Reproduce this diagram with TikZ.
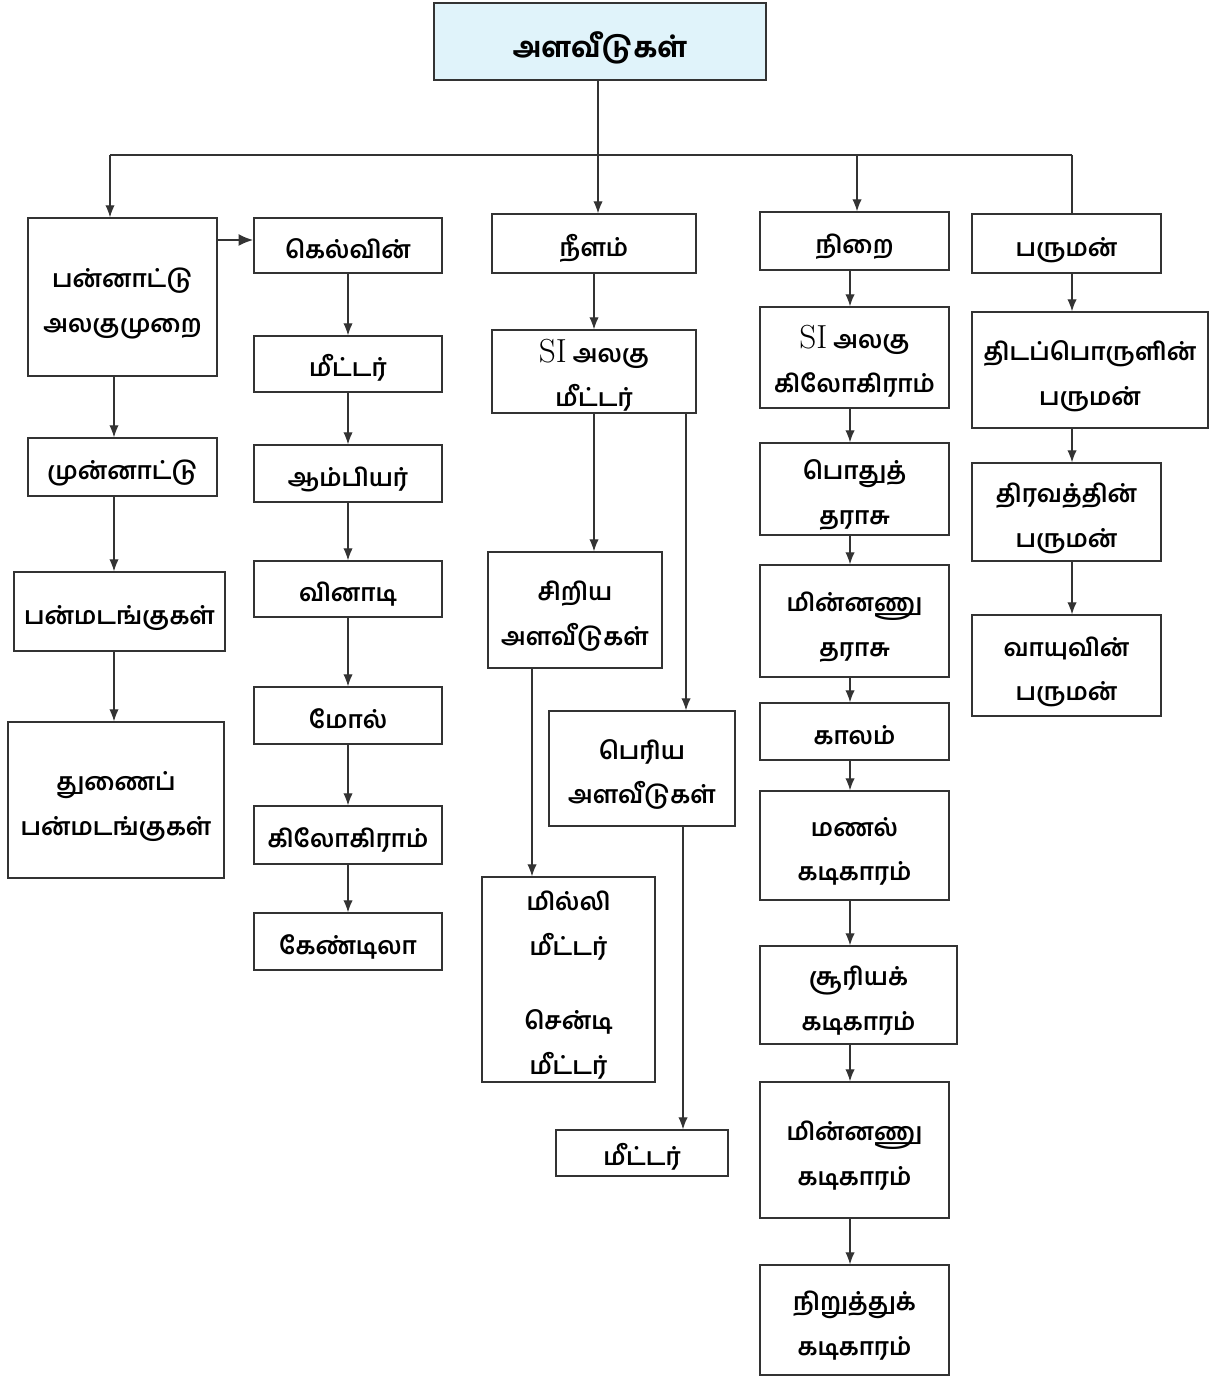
\documentclass[tikz,border=0pt]{standalone}
\usepackage{fontspec}
\newfontfamily\tam[Script=Tamil]{Hind Madurai SemiBold}
\newfontfamily\tamb[Script=Tamil]{Hind Madurai Bold}
\usetikzlibrary{arrows.meta}
\definecolor{edge}{HTML}{333333}
\definecolor{titlefill}{HTML}{E0F3FA}
\tikzset{
  box/.style={draw=edge, line width=1pt, inner sep=0pt,
    font={\tam\fontsize{18.3}{33.5}\selectfont}},
  titlebox/.style={box, fill=titlefill, font={\tamb\fontsize{21}{33}\selectfont}},
  link/.style={draw=edge, line width=0.9pt},
  arr/.style={link, -{Latex[length=9pt,width=7pt]}},
  bigarr/.style={draw=edge, line width=1.8pt, -{Latex[length=11pt,width=9pt]}}
}
\newcommand{\SIx}{{\rmfamily\fontsize{25}{33}\selectfont SI}}
% \bx[style]{name}{x1}{y1}{x2}{y2}{text}
\newcommand{\bx}[7][box]{\node[#1, minimum width={(#5-#3)*0.75pt}, minimum height={(#6-#4)*0.75pt}] (#2) at ({(#3+#5)/2},{(#4+#6)/2}) {\raisebox{-7.3pt}[0pt][0pt]{\begin{tabular}{@{}c@{}}#7\end{tabular}}};}
\begin{document}
\begin{tikzpicture}[x=0.75pt,y=-0.75pt]
\useasboundingbox (0,0) rectangle (1216,1376);
% title
\bx[titlebox]{top}{434}{3}{766}{80}{\raisebox{-3pt}{அளவீடுகள்}}
% left column
\bx{pan}{28}{218}{217}{376}{பன்னாட்டு\\அலகுமுறை}
\bx{mun}{28}{438}{217}{496}{முன்னாட்டு}
\bx{panm}{14}{572}{225}{651}{பன்மடங்குகள்}
\bx{thun}{8}{722}{224}{878}{துணைப்\\பன்மடங்குகள்}
% kelvin column
\bx{kel}{254}{218}{442}{273}{கெல்வின்}
\bx{kmet}{254}{336}{442}{392}{மீட்டர்}
\bx{amp}{254}{445}{442}{502}{ஆம்பியர்}
\bx{sec}{254}{561}{442}{617}{வினாடி}
\bx{mol}{254}{687}{442}{744}{மோல்}
\bx{kg}{254}{806}{442}{864}{கிலோகிராம்}
\bx{cd}{254}{913}{442}{970}{கேண்டிலா}
% length column
\bx{nee}{492}{214}{696}{273}{நீளம்}
\bx{sim}{492}{330}{696}{413}{\SIx\ அலகு\\மீட்டர்}
\bx{small}{488}{552}{662}{668}{சிறிய\\அளவீடுகள்}
\bx{big}{549}{711}{735}{826}{பெரிய\\அளவீடுகள்}
\bx{mm}{482}{877}{655}{1082}{மில்லி\\மீட்டர்\\[22pt]சென்டி\\மீட்டர்}
\bx{met}{556}{1130}{728}{1176}{மீட்டர்}
% mass / time column
\bx{nir}{760}{212}{949}{270}{நிறை}
\bx{sikg}{760}{307}{949}{408}{\SIx\ அலகு\\கிலோகிராம்}
\bx{pot}{760}{443}{949}{535}{பொதுத்\\தராசு}
\bx{mint}{760}{565}{949}{677}{மின்னணு\\தராசு}
\bx{kal}{760}{703}{949}{760}{காலம்}
\bx{man}{760}{791}{949}{900}{மணல்\\கடிகாரம்}
\bx{sur}{760}{946}{957}{1044}{சூரியக்\\கடிகாரம்}
\bx{mink}{760}{1082}{949}{1218}{மின்னணு\\கடிகாரம்}
\bx{niru}{760}{1265}{949}{1375}{நிறுத்துக்\\கடிகாரம்}
% volume column
\bx{par}{972}{214}{1161}{273}{பருமன்}
\bx{thid}{972}{312}{1208}{428}{திடப்பொருளின்\\பருமன்}
\bx{thir}{972}{463}{1161}{561}{திரவத்தின்\\பருமன்}
\bx{vay}{972}{615}{1161}{716}{வாயுவின்\\பருமன்}
% helper coordinates
\coordinate (bary) at (0,155);
\coordinate (xL) at (110,0);
\coordinate (xM) at (598,0);
\coordinate (xN) at (857,0);
\coordinate (xR) at (1072,0);
\coordinate (xP) at (114,0);
\coordinate (xK) at (348,0);
\coordinate (xS) at (594,0);
\coordinate (xB) at (686,0);
\coordinate (xC) at (532,0);
\coordinate (xD) at (683,0);
\coordinate (xT) at (850,0);
\coordinate (yK) at (0,240);
% trunk and bar
\draw[link] (top.south -| xM) -- (xM |- bary);
\draw[link] (xL |- bary) -- (xR |- bary);
\draw[arr] (xL |- bary) -- (xL |- pan.north);
\draw[arr] (xM |- bary) -- (xM |- nee.north);
\draw[arr] (xN |- bary) -- (xN |- nir.north);
\draw[link] (xR |- bary) -- (xR |- par.north);
% left column
\draw[bigarr] (pan.east |- yK) -- (kel.west |- yK);
\draw[arr] (pan.south -| xP) -- (mun.north -| xP);
\draw[arr] (mun.south -| xP) -- (panm.north -| xP);
\draw[arr] (panm.south -| xP) -- (thun.north -| xP);
% kelvin column
\draw[arr] (kel.south -| xK) -- (kmet.north -| xK);
\draw[arr] (kmet.south -| xK) -- (amp.north -| xK);
\draw[arr] (amp.south -| xK) -- (sec.north -| xK);
\draw[arr] (sec.south -| xK) -- (mol.north -| xK);
\draw[arr] (mol.south -| xK) -- (kg.north -| xK);
\draw[arr] (kg.south -| xK) -- (cd.north -| xK);
% length column
\draw[arr] (nee.south -| xS) -- (sim.north -| xS);
\draw[arr] (sim.south -| xS) -- (small.north -| xS);
\draw[arr] (sim.south -| xB) -- (big.north -| xB);
\draw[arr] (small.south -| xC) -- (mm.north -| xC);
\draw[arr] (big.south -| xD) -- (met.north -| xD);
% mass / time column
\draw[arr] (nir.south -| xT) -- (sikg.north -| xT);
\draw[arr] (sikg.south -| xT) -- (pot.north -| xT);
\draw[arr] (pot.south -| xT) -- (mint.north -| xT);
\draw[arr] (mint.south -| xT) -- (kal.north -| xT);
\draw[arr] (kal.south -| xT) -- (man.north -| xT);
\draw[arr] (man.south -| xT) -- (sur.north -| xT);
\draw[arr] (sur.south -| xT) -- (mink.north -| xT);
\draw[arr] (mink.south -| xT) -- (niru.north -| xT);
% volume column
\draw[arr] (par.south -| xR) -- (thid.north -| xR);
\draw[arr] (thid.south -| xR) -- (thir.north -| xR);
\draw[arr] (thir.south -| xR) -- (vay.north -| xR);
\end{tikzpicture}
\end{document}
